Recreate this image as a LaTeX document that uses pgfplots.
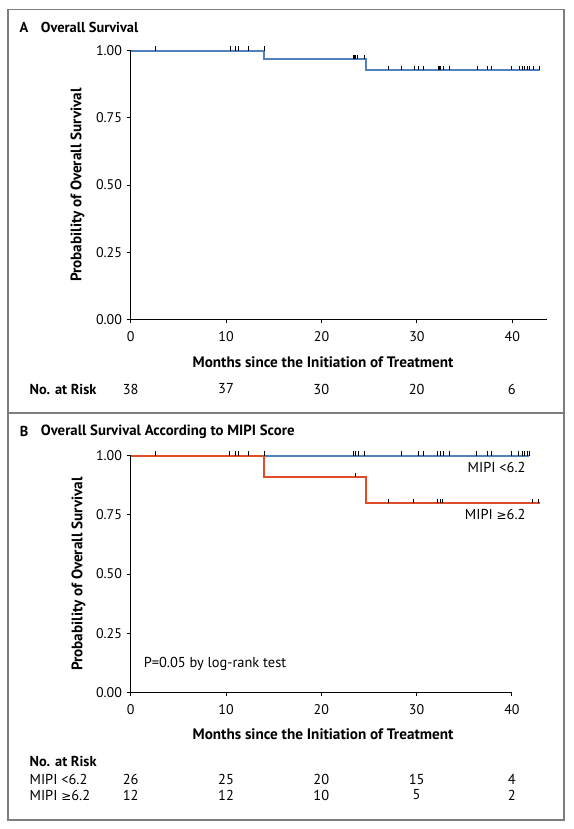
\documentclass[border=0pt]{standalone}
\usepackage{fontspec}
\setmainfont{PT Sans}
\newfontfamily\symfont{DejaVu Sans}
\usepackage{pgfplots}
\pgfplotsset{compat=1.18}
\definecolor{kmblue}{RGB}{79,129,189}
\definecolor{kmred}{RGB}{222,76,42}
\definecolor{framegray}{RGB}{125,125,125}
\pgfdeclareplotmark{cens}{\pgfpathmoveto{\pgfpointorigin}\pgfpathlineto{\pgfpoint{0pt}{3.3pt}}\pgfusepathqstroke}
\newcommand{\mygeq}{{\symfont\fontsize{9}{10}\selectfont ≥}}
\newcommand{\fnt}{\fontsize{10.8}{12.5}\selectfont}
\pgfplotsset{
  kmaxis/.style={
    scale only axis,
    axis lines=left,
    axis line style={-, line width=0.7pt, black},
    tick style={line width=0.7pt, black},
    tick align=outside,
    major tick length=3pt,
    ymin=0, ymax=1,
    xtick={0,10,20,30,40},
    ytick={0,0.25,0.5,0.75,1},
    yticklabels={0.00,0.25,0.50,0.75,1.00},
    /pgf/number format/assume math mode=true,
    tick label style={font=\fontsize{10.5}{12}\selectfont},
    xticklabel style={yshift=-2.5pt},
    label style={font=\fontsize{11.4}{13}\selectfont\bfseries},
    clip=false,
  },
  censor/.style={only marks, mark=cens, mark options={line width=0.6pt, black}},
}
\begin{document}
\begin{tikzpicture}[x=0.75pt,y=0.75pt,every node/.append style={font=\fnt}]
\path[use as bounding box] (0,0) rectangle (574,829);
\draw[framegray, line width=1.1pt] (8,819.7) rectangle (564,9);
\draw[framegray, line width=1.1pt] (8,416) -- (564,416);

% Panel A
\begin{axis}[kmaxis, at={(98.03pt,382.13pt)}, anchor=south west,
  width=312pt, height=201.6pt, xmin=0, xmax=43.6,
  xlabel={Months since the Initiation of Treatment},
  ylabel={Probability of Overall Survival},
  xlabel style={at={(axis description cs:0.4623,-0.1607)}, anchor=center},
  ylabel style={at={(axis description cs:-0.128,0.5)}, anchor=center}]
\addplot[kmblue, line width=1.4pt] coordinates {(0,1) (14,1) (14,0.968) (24.7,0.968) (24.7,0.928) (42.9,0.928)};
\addplot[censor] coordinates {(2.6,1) (10.4,1) (11.0,1) (11.3,1) (12.3,1) (14.0,1)};
\addplot[censor] coordinates {(23.3,0.968) (23.45,0.968) (23.6,0.968) (23.8,0.968) (24.5,0.968)};
\addplot[censor] coordinates {(27.0,0.928) (28.4,0.928) (29.7,0.928) (30.2,0.928) (30.7,0.928)
 (32.2,0.928) (32.35,0.928) (32.5,0.928) (32.8,0.928) (33.4,0.928) (36.3,0.928) (37.4,0.928)
 (37.8,0.928) (39.9,0.928) (40.7,0.928) (41.1,0.928) (41.3,0.928) (41.6,0.928) (41.8,0.928)
 (42.2,0.928) (42.8,0.928)};
\end{axis}

% Panel B
\begin{axis}[kmaxis, at={(98.03pt,102.38pt)}, anchor=south west,
  width=285.9pt, height=177.6pt, xmin=0, xmax=40,
  xlabel={Months since the Initiation of Treatment},
  ylabel={Probability of Overall Survival},
  xlabel style={at={(axis description cs:0.5045,-0.1753)}, anchor=center},
  ylabel style={at={(axis description cs:-0.137,0.5)}, anchor=center}]
\addplot[kmblue, line width=1.4pt] coordinates {(0,1) (41.8,1)};
\addplot[kmred, line width=1.4pt] coordinates {(0,1) (14,1) (14,0.909) (24.7,0.909) (24.7,0.80) (42.9,0.80)};
\addplot[censor] coordinates {(2.6,1) (10.4,1) (11.0,1) (11.3,1) (12.3,1) (14.0,1)
 (23.4,1) (23.6,1) (23.9,1) (24.5,1) (28.4,1) (30.2,1) (30.7,1) (32.2,1) (32.5,1) (32.8,1)
 (33.4,1) (36.3,1) (37.4,1) (37.8,1) (39.9,1) (40.7,1) (41.1,1) (41.3,1) (41.6,1) (41.8,1)};
\addplot[censor] coordinates {(23.6,0.909) (27.0,0.80) (29.7,0.80) (32.2,0.80) (32.45,0.80) (32.7,0.80) (42.2,0.80) (42.8,0.80)};
\end{axis}

% Texts (pixel coordinates, y from bottom)
\begin{scope}[every node/.append style={inner sep=0pt}]
\node[anchor=west, font=\fnt\bfseries] at (19.3,801.7) {A};
\node[anchor=west, font=\fnt\bfseries] at (40.7,801.7) {Overall Survival};
\node[anchor=west, font=\fnt\bfseries] at (29.3,440) {No. at Risk};
\foreach \m/\v in {0/38,10/37,20/30,30/20,40/6} \node at ({130.7+9.53*\m},440) {\v};

\node[anchor=west, font=\fnt\bfseries] at (19.5,397.3) {B};
\node[anchor=west, font=\fontsize{11.1}{12.5}\selectfont\bfseries] at (40.7,397.3) {Overall Survival According to MIPI Score};
\node[anchor=east] at (525.7,361.3) {MIPI <6.2};
\node[anchor=east] at (525.7,315) {MIPI \mygeq6.2};
\node[anchor=west] at (143.5,165) {P=0.05 by log-rank test};
\node[anchor=west, font=\fnt\bfseries] at (29.4,67.3) {No. at Risk};
\node[anchor=west] at (29.4,49.7) {MIPI <6.2};
\node[anchor=west] at (29.4,34) {MIPI \mygeq6.2};
\foreach \m/\v in {0/26,10/25,20/20,30/15,40/4} \node at ({130.7+9.53*\m},49.7) {\v};
\foreach \m/\v in {0/12,10/12,20/10,30/5,40/2} \node at ({130.7+9.53*\m},34) {\v};
\end{scope}
\end{tikzpicture}
\end{document}
